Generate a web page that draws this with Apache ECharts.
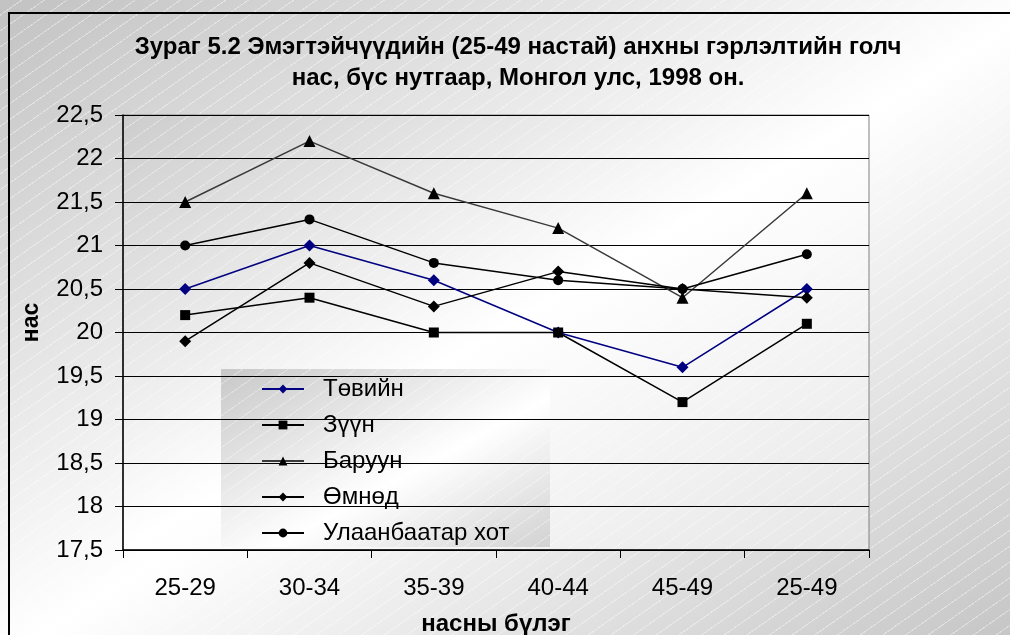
<!DOCTYPE html>
<html><head><meta charset="utf-8">
<script src="https://cdn.jsdelivr.net/npm/echarts@6/dist/echarts.min.js"></script>
<style>
html,body{margin:0;padding:0;background:#fff;}
#wrap{position:relative;width:1010px;height:635px;overflow:hidden;
 background:
  repeating-linear-gradient(145deg, rgba(255,255,255,0) 0px, rgba(255,255,255,0) 12px, rgba(255,255,255,0.4) 12px, rgba(255,255,255,0.4) 13px),
  linear-gradient(to bottom right, #c2c2c2 0%, #ffffff 52%, #c6c6c6 100%);}
#frame{position:absolute;left:8px;top:12px;width:1020px;height:640px;border-top:2px solid #000;border-left:2px solid #000;}
#plotbg{position:absolute;left:123px;top:115px;width:746px;height:435px;
 background:
  repeating-linear-gradient(145deg, rgba(255,255,255,0) 0px, rgba(255,255,255,0) 12px, rgba(255,255,255,0.35) 12px, rgba(255,255,255,0.35) 13px),
  linear-gradient(to bottom right, #cdcdcd 0%, #ffffff 50%, #e6e6e6 100%);}
#legbg{position:absolute;left:221px;top:369px;width:329px;height:178px;
 background:
  repeating-linear-gradient(145deg, rgba(255,255,255,0) 0px, rgba(255,255,255,0) 12px, rgba(255,255,255,0.35) 12px, rgba(255,255,255,0.35) 13px),
  linear-gradient(to bottom right, #c8c8c8 0%, #ffffff 58%, #d2d2d2 100%);}
#chart{position:absolute;left:0;top:0;width:1010px;height:635px;}
</style>
</head><body>
<div id="wrap"><div id="frame"></div><div id="plotbg"></div><div id="legbg"></div><div id="chart"></div></div>
<script>
var titleText = 'Зураг 5.2 Эмэгтэйчүүдийн (25-49 настай) анхны гэрлэлтийн голч\nнас, бүс нутгаар, Монгол улс, 1998 он.';
var xAxisTitle = 'насны бүлэг';
var yAxisTitle = 'нас';
var categories = ['25-29', '30-34', '35-39', '40-44', '45-49', '25-49'];
var seriesNames = ['Төвийн', 'Зүүн', 'Баруун', 'Өмнөд', 'Улаанбаатар хот'];
var tuv = [20.5, 21.0, 20.6, 20.0, 19.6, 20.5];
var zuun = [20.2, 20.4, 20.0, 20.0, 19.2, 20.1];
var baruun = [21.5, 22.2, 21.6, 21.2, 20.4, 21.6];
var omnod = [19.9, 20.8, 20.3, 20.7, 20.5, 20.4];
var ulaanbaatar = [21.0, 21.3, 20.8, 20.6, 20.5, 20.9];
var yMin = 17.5, yMax = 22.5, yStep = 0.5;

var FONT = '"Liberation Sans", Arial, sans-serif';
var chart = echarts.init(document.getElementById('chart'), null, {renderer: 'canvas'});

function mkSeries(name, data, symbol, lineColor, markColor, size) {
  return {
    name: name, type: 'line', data: data, symbol: symbol, symbolSize: size,
    showAllSymbol: true,
    lineStyle: {color: lineColor, width: 1.5},
    itemStyle: {color: markColor, borderWidth: 0},
    emphasis: {disabled: true},
    animation: false, z: 3
  };
}

var option = {
  backgroundColor: 'transparent',
  animation: false,
  textStyle: {fontFamily: FONT},
  graphic: [{
    type: 'text', x: 518, y: 63,
    style: {text: titleText, font: 'bold 24px ' + FONT, fill: '#000', textAlign: 'center', textVerticalAlign: 'middle', lineHeight: 31}
  }],
  legend: {
    show: true, orient: 'vertical', left: 221, top: 369,
    padding: [2, 30, 0, 40],
    itemWidth: 42, itemHeight: 11, itemGap: 0,
    backgroundColor: 'transparent',
    textStyle: {fontSize: 24, color: '#000', fontFamily: FONT, lineHeight: 36, padding: [0, 0, 0, 14]},
    data: seriesNames,
    selectedMode: false
  },
  grid: {left: 123, top: 115, right: 141, bottom: 85, show: true, borderColor: '#808080', borderWidth: 1, backgroundColor: 'transparent', containLabel: false, outerBoundsMode: 'none'},
  xAxis: {
    type: 'category', data: categories, boundaryGap: true,
    axisLine: {show: true, lineStyle: {color: '#000', width: 1.5}},
    axisTick: {show: true, length: 8, lineStyle: {color: '#000', width: 1}},
    axisLabel: {fontSize: 24, color: '#000', margin: 26, fontFamily: FONT},
    splitLine: {show: false},
    name: xAxisTitle, nameLocation: 'middle', nameGap: 62,
    nameTextStyle: {fontSize: 24, fontWeight: 'bold', color: '#000', fontFamily: FONT}
  },
  yAxis: {
    type: 'value', min: yMin, max: yMax, interval: yStep,
    axisLine: {show: true, lineStyle: {color: '#000', width: 1.5}},
    axisTick: {show: true, length: 8, lineStyle: {color: '#000', width: 1}},
    axisLabel: {fontSize: 24, color: '#000', margin: 20, fontFamily: FONT, showMinLabel: true, showMaxLabel: true,
      formatter: function (v) { return String(v).replace('.', ','); }},
    splitLine: {show: true, lineStyle: {color: '#000', width: 1}},
    name: yAxisTitle, nameLocation: 'middle', nameGap: 80, nameRotate: 90,
    nameTextStyle: {fontSize: 23, fontWeight: 'bold', color: '#000', fontFamily: FONT, padding: [0, 0, 0, 20]}
  },
  series: [
    mkSeries(seriesNames[0], tuv, 'diamond', '#000080', '#000080', 12),
    mkSeries(seriesNames[1], zuun, 'rect', '#000', '#000', 10),
    mkSeries(seriesNames[2], baruun, 'triangle', '#3a3a3a', '#000', 12),
    mkSeries(seriesNames[3], omnod, 'diamond', '#000', '#000', 12),
    mkSeries(seriesNames[4], ulaanbaatar, 'circle', '#000', '#000', 10)
  ]
};
chart.setOption(option);
</script>
</body></html>
